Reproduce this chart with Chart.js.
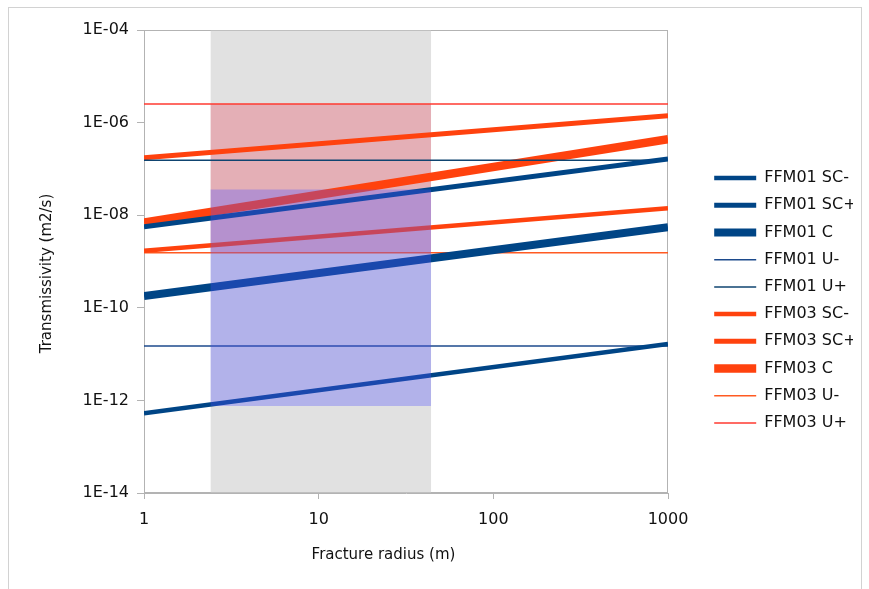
<!DOCTYPE html>
<html>
<head>
<meta charset="utf-8">
<script src="https://cdn.jsdelivr.net/npm/chart.js@4.4.1/dist/chart.umd.min.js"></script>
<style>
html,body{margin:0;padding:0;background:#fff;}
#wrap{position:relative;width:869px;height:589px;overflow:hidden;}
#frame{position:absolute;left:8px;top:7px;width:854px;height:600px;border:1px solid #d2d2d2;box-sizing:border-box;pointer-events:none;}
canvas{position:absolute;left:0;top:0;}
</style>
</head>
<body>
<div id="wrap"><canvas id="c" width="869" height="589"></canvas><div id="frame"></div></div>
<script>
// ---- data ----
const xValues = [1, 1000];
const ffm01ScMinus = [5.3e-13, 1.65e-11];
const ffm01ScPlus  = [5.65e-9, 1.64e-7];
const ffm01C       = [1.8e-10, 5.5e-9];
const ffm01UMinus  = [1.5e-11, 1.5e-11];
const ffm01UPlus   = [1.53e-7, 1.53e-7];
const ffm03ScMinus = [1.71e-9, 1.41e-8];
const ffm03ScPlus  = [1.75e-7, 1.41e-6];
const ffm03C       = [6.9e-9, 4.4e-7];
const ffm03UMinus  = [1.55e-9, 1.55e-9];
const ffm03UPlus   = [2.52e-6, 2.52e-6];

const bandX        = [2.4, 44];            // fracture radius range of shaded bands
const greyBand     = [1e-14, 1e-4];        // [bottom, top]
const ffm03Band    = [1.55e-9, 2.52e-6];
const ffm01Band    = [7.6e-13, 3.6e-8];

const xTicks = [1, 10, 100, 1000];
const xTickLabels = ['1', '10', '100', '1000'];
const yTicks = [1e-14, 1e-12, 1e-10, 1e-8, 1e-6, 1e-4];
const yTickLabels = ['1E-14', '1E-12', '1E-10', '1E-08', '1E-06', '1E-04'];

const xTitle = 'Fracture radius (m)';
const yTitle = 'Transmissivity (m2/s)';

// ---- helpers ----
const BLUE = '#004586';
const RED = '#ff420e';
function line(label, values, color, width) {
  return {
    label,
    data: xValues.map((x, i) => ({x, y: values[i]})),
    borderColor: color, backgroundColor: color,
    borderWidth: width, pointBorderWidth: width, pointBorderColor: color, pointBackgroundColor: color,
    pointRadius: 0, pointHoverRadius: 0, showLine: true, fill: false, tension: 0
  };
}
function band(range, color) {
  return {
    label: '', isBand: true,
    data: bandX.map(x => ({x, y: range[1]})),
    fill: {value: range[0]},
    backgroundColor: color, borderColor: 'transparent', borderWidth: 1,
    pointRadius: 0, pointHoverRadius: 0, showLine: true
  };
}

const datasets = [
  band(ffm01Band, 'rgba(80,80,255,0.32)'),
  line('FFM01 SC-', ffm01ScMinus, BLUE, 4.5),
  line('FFM01 SC+', ffm01ScPlus, BLUE, 5),
  line('FFM01 C', ffm01C, BLUE, 8),
  line('FFM01 U-', ffm01UMinus, '#1c4a8c', 1.5),
  line('FFM01 U+', ffm01UPlus, '#0f4470', 1.5),
  line('FFM03 SC-', ffm03ScMinus, RED, 4.5),
  line('FFM03 SC+', ffm03ScPlus, RED, 5),
  line('FFM03 C', ffm03C, RED, 8.5),
  line('FFM03 U-', ffm03UMinus, '#ff5a22', 1.5),
  line('FFM03 U+', ffm03UPlus, '#ff3a30', 1.5),
  band(ffm03Band, 'rgba(235,80,100,0.34)'),
  band(greyBand, 'rgba(200,200,200,0.55)')
];

const FONT = 'DejaVu Sans';
const frameAndTitles = {
  id: 'frameAndTitles',
  beforeDatasetsDraw(chart) {
    const {ctx, chartArea: a} = chart;
    ctx.save();
    ctx.strokeStyle = '#b3b3b3';
    ctx.lineWidth = 1;
    ctx.strokeRect(Math.round(a.left) + 0.5, Math.round(a.top) + 0.5, Math.round(a.right - a.left) - 1, Math.round(a.bottom - a.top) - 1);
    ctx.restore();
  },
  afterDraw(chart) {
    const {ctx} = chart;
    ctx.save();
    ctx.fillStyle = '#111';
    ctx.font = '15px "' + FONT + '"';
    ctx.textAlign = 'center';
    ctx.textBaseline = 'middle';
    ctx.fillText(xTitle, 383.5, 555);
    ctx.translate(47, 273.5);
    ctx.rotate(-Math.PI / 2);
    ctx.fillText(yTitle, 0, 0);
    ctx.restore();
  }
};

new Chart(document.getElementById('c'), {
  type: 'scatter',
  data: {datasets},
  plugins: [frameAndTitles],
  options: {
    responsive: false, animation: false, devicePixelRatio: 1,
    layout: {padding: {top: 30, right: 16, bottom: 18, left: 0}},
    plugins: {
      tooltip: {enabled: false},
      legend: {
        position: 'right', maxWidth: 150,
        labels: {
          usePointStyle: true, pointStyle: 'line', pointStyleWidth: 42,
          padding: 11.2, color: '#111', font: {family: FONT, size: 16},
          filter: (item, data) => !data.datasets[item.datasetIndex].isBand
        }
      }
    },
    scales: {
      x: {
        type: 'logarithmic', position: 'bottom', min: 1, max: 1000,
        afterBuildTicks: s => { s.ticks = xTicks.map(v => ({value: v})); },
        afterFit: s => { s.height = 78; },
        grid: {drawOnChartArea: false, drawTicks: true, tickLength: 6, color: '#b3b3b3'},
        border: {color: '#b3b3b3'},
        ticks: {autoSkip: false, maxRotation: 0, padding: 11, color: '#111', font: {family: FONT, size: 16},
                callback: (v, i) => xTickLabels[i]}
      },
      y: {
        type: 'logarithmic', position: 'left', min: 1e-14, max: 1e-4,
        afterBuildTicks: s => { s.ticks = yTicks.map(v => ({value: v})); },
        afterFit: s => { s.width = 144; },
        grid: {drawOnChartArea: false, drawTicks: true, tickLength: 7, color: '#b3b3b3'},
        border: {color: '#b3b3b3'},
        ticks: {autoSkip: false, padding: 8, color: '#111', font: {family: FONT, size: 16},
                callback: (v, i) => yTickLabels[i]}
      },
      spacer: {
        type: 'linear', position: 'right', display: true,
        grid: {display: false}, border: {display: false}, ticks: {display: false},
        afterFit: s => { s.width = 35; }
      }
    }
  }
});
</script>
</body>
</html>
